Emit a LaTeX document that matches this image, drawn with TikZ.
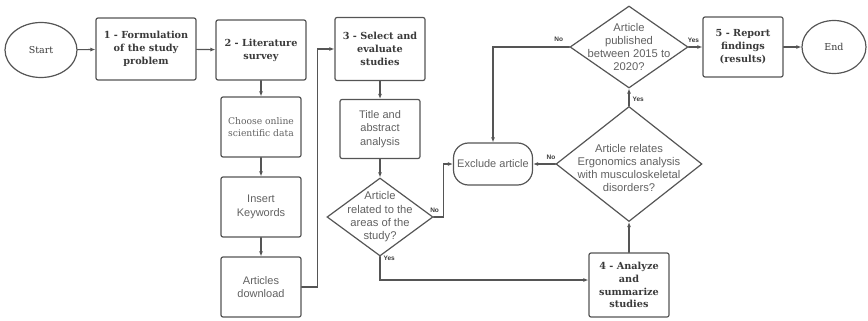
\documentclass[tikz,border=0pt]{standalone}
\usepackage{fontspec}
\setmainfont{Liberation Sans}
\newfontfamily\boxfont{DejaVu Serif}
\usetikzlibrary{arrows.meta,shapes.geometric}
\definecolor{lineg}{HTML}{555555}
\definecolor{txtg}{HTML}{3a3a3a}

\begin{document}
\begin{tikzpicture}[x=1pt,y=-1pt,>={Latex[length=5pt,width=4pt]},line cap=round,
  conn/.style={draw=lineg,line width=1.1pt,->},
  stepbox/.style={rectangle,rounded corners=2pt,draw=lineg,line width=1.2pt,text=txtg,align=center,
    inner sep=0pt,font=\boxfont\bfseries\fontsize{9.7}{12.8}\selectfont},
  subbox/.style={rectangle,rounded corners=2pt,draw=lineg,line width=1.2pt,text=txtg!80,align=center,
    inner sep=0pt,font=\fontsize{11}{13.3}\selectfont,minimum width=80pt,minimum height=60pt},
  ends/.style={ellipse,draw=lineg,line width=1.2pt,text=txtg,inner sep=0pt,
    font=\boxfont\fontsize{9.5}{12}\selectfont},
  decide/.style={diamond,draw=lineg,line width=1.2pt,inner sep=0pt},
  decidetxt/.style={text=txtg!80,align=center,inner sep=0pt,font=\fontsize{11.2}{13.3}\selectfont},
  answer/.style={font=\bfseries\fontsize{6.5}{7}\selectfont,text=txtg,inner sep=1pt}]
\useasboundingbox (0,0) rectangle (868,321);

\node[ends,minimum width=72pt,minimum height=55pt] (start) at (41,50) {Start};
\node[stepbox,minimum width=100pt,minimum height=62pt] (form) at (146,49) {1 - Formulation\\of the study\\problem};
\node[stepbox,minimum width=90pt,minimum height=60pt] (survey) at (261,50) {2 - Literature\\survey};
\node[subbox,font=\boxfont\fontsize{9.2}{11.7}\selectfont] (choose) at (261,127) {Choose online\\scientific data};
\node[subbox] (keys) at (261,207) {Insert\\Keywords};
\node[subbox] (download) at (261,287) {Articles\\download};
\node[stepbox,minimum width=90pt,minimum height=63pt] (select) at (380,49) {3 - Select and\\evaluate\\studies};
\node[subbox,minimum height=59pt] (title) at (380,129) {Title and\\abstract\\analysis};
\node[decide,minimum width=106pt,minimum height=78pt] (related) at (380,217) {};
\node[decidetxt] (relatedtxt) at (related) {Article\\related to the\\areas of the\\study?};
\node[subbox,rounded corners=15pt,minimum width=79pt,minimum height=42pt] (exclude) at (493,164) {Exclude article};
\node[decide,minimum width=146pt,minimum height=115pt] (ergo) at (629,164) {};
\node[decidetxt] (ergotxt) at ([yshift=-4pt]ergo) {Article relates\\Ergonomics analysis\\with musculoskeletal\\disorders?};
\node[stepbox,minimum width=80pt,minimum height=64pt] (analyze) at (629,285) {4 - Analyze\\and\\summarize\\studies};
\node[decide,minimum width=118pt,minimum height=82pt] (period) at (629,47) {};
\node[decidetxt] (periodtxt) at (period) {Article\\published\\between 2015 to\\2020?};
\node[stepbox,minimum width=80pt,minimum height=60pt] (report) at (743,47) {5 - Report\\findings\\(results)};
\node[ends,minimum width=64pt,minimum height=53pt] (end) at (834,47) {End};

% main line
\draw[conn] (start) -- (form);
\draw[conn] (form) -- (survey);
\draw[conn] (survey) -- (choose);
\draw[conn] (choose) -- (keys);
\draw[conn] (keys) -- (download);
\draw[conn] (download.east) -- ++(16,0) |- (select.west);
\draw[conn] (select) -- (title);
\draw[conn] (title) -- (related);
% decisions
\draw[conn] (related.east) -- ++(10,0) node[answer,pos=0.1,above=3pt]{No} |- (exclude.west);
\draw[conn] (related.south) |- ([yshift=5pt]analyze.west) node[answer,pos=0.04,right=2pt]{Yes};
\draw[conn] (analyze) -- (ergo);
\draw[conn] (ergo.west) -- (exclude.east) node[answer,pos=0.2,above=3pt]{No};
\draw[conn] (ergo.north) -- (period.south) node[answer,pos=0.4,right=2pt]{Yes};
\draw[conn] (period.west) -| (exclude.north) node[answer,pos=0.07,above=4pt]{No};
\draw[conn] (period.east) -- (report.west) node[answer,pos=0.35,above=3pt]{Yes};
\draw[conn] (report) -- (end);
\end{tikzpicture}
\end{document}
